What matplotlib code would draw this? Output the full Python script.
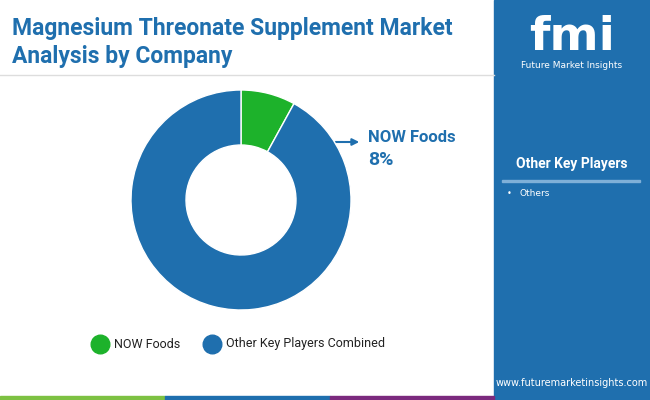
import matplotlib
matplotlib.use("Agg")
import matplotlib.pyplot as plt
from matplotlib.patches import Rectangle

labels = ["NOW Foods", "Other Key Players Combined"]
shares = [8, 92]
colors = ["#1db22b", "#1f6fae"]
players = ["Others"]

fig = plt.figure(figsize=(6.5, 4), dpi=100)
W, H = 650, 400
bg = fig.add_axes([0, 0, 1, 1]); bg.set_xlim(0, W); bg.set_ylim(H, 0); bg.axis("off")
bg.add_patch(Rectangle((494, 0), 156, 400, color="#1f6fae"))
bg.add_patch(Rectangle((502, 180), 138, 1.5, color="#7fb0d8"))
bg.add_patch(Rectangle((0, 396), 165, 4, color="#7dc142"))
bg.add_patch(Rectangle((165, 396), 165, 4, color="#1f6fae"))
bg.add_patch(Rectangle((330, 396), 164, 4, color="#7b2a7e"))
bg.plot([0, 494], [75, 75], color="#dddddd", lw=1)
bg.text(12, 17, "Magnesium Threonate Supplement Market\nAnalysis by Company", fontsize=16.5,
        fontweight="bold", color="#1f6fae", va="top", linespacing=1.25, family="Roboto")
bg.text(572, 38, "fmi", fontsize=34, fontweight="bold", color="white", ha="center", va="center", family="DejaVu Sans")
bg.text(572, 65, "Future Market Insights", fontsize=6.5, color="white", ha="center", va="center")
bg.text(572, 164, "Other Key Players", fontsize=10, fontweight="bold", color="white", ha="center", va="center", family="Roboto")
for i, p in enumerate(players):
    bg.text(507, 193 + i * 15, "•", fontsize=6, color="white", va="center")
    bg.text(519, 193 + i * 15, p, fontsize=6.5, color="white", va="center")
bg.text(572, 383, "www.futuremarketinsights.com", fontsize=7, color="white", ha="center", va="center")

R = 110
ax = fig.add_axes([(241 - R) / W, 1 - (200 + R) / H, 2 * R / W, 2 * R / H])
ax.pie(shares, colors=colors, startangle=90, counterclock=False, radius=1,
       wedgeprops=dict(width=0.5, edgecolor="white", linewidth=1))
ax.set_xlim(-1, 1); ax.set_ylim(-1, 1)
ax.set_aspect("equal")

bg.annotate("", xy=(362, 142), xytext=(333, 142),
            arrowprops=dict(arrowstyle="-|>", color="#1f6fae", lw=1.5))
bg.text(368, 137, labels[0], fontsize=12, fontweight="bold", color="#1f6fae", va="center", family="Roboto")
bg.text(368, 160, f"{shares[0]}%", fontsize=14, fontweight="bold", color="#1f6fae", va="center", family="Roboto")

for x, lab, c in [(100, labels[0], colors[0]), (212, labels[1], colors[1])]:
    bg.scatter([x], [344], s=180, color=c)
    bg.text(x + 14, 344, lab, fontsize=9, color="#222222", va="center", family="Roboto")

fig.savefig("out.png", dpi=100)
